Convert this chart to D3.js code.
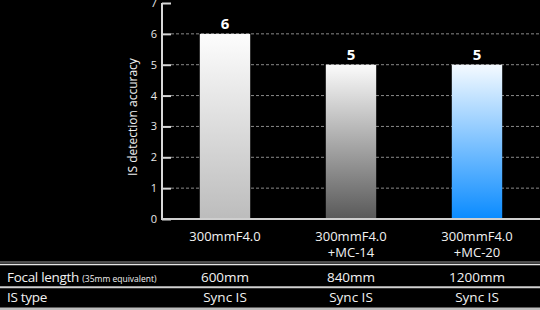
<!DOCTYPE html>
<html>
<head>
<meta charset="utf-8">
<script src="https://cdn.jsdelivr.net/npm/d3@7.9.0/dist/d3.min.js"></script>
<style>
  html, body { margin: 0; padding: 0; background: #000; }
  svg { display: block; font-family: "Open Sans", sans-serif; }
</style>
</head>
<body>
<div id="vis"></div>
<script>
const width = 540, height = 310;

const categories = [["300mmF4.0"], ["300mmF4.0", "+MC-14"], ["300mmF4.0", "+MC-20"]];
const values = [6, 5, 5];
const focalLengths = ["600mm", "840mm", "1200mm"];
const isTypes = ["Sync IS", "Sync IS", "Sync IS"];
const yTicks = [0, 1, 2, 3, 4, 5, 6, 7];
const gridTicks = [1, 2, 3, 4, 5, 6];

// gradient stops per bar: top, bottom
const barColors = [["#fdfdfd", "#bcbcbc"], ["#fbfbfb", "#595959"], ["#f4faff", "#0a8bff"]];

const svg = d3.select("#vis").append("svg")
    .attr("width", width)
    .attr("height", height)
    .attr("viewBox", `0 0 ${width} ${height}`);

svg.append("rect").attr("width", width).attr("height", height).attr("fill", "#000");

const x = d3.scaleBand()
    .domain(d3.range(values.length))
    .range([162, 540])
    .paddingInner(0.6)
    .paddingOuter(0.3);

const y = d3.scaleLinear().domain([0, 7]).range([219, 3]);

const defs = svg.append("defs");
barColors.forEach((c, i) => {
  const g = defs.append("linearGradient")
      .attr("id", "grad" + i)
      .attr("x1", 0).attr("y1", 0).attr("x2", 0).attr("y2", 1);
  g.append("stop").attr("offset", "0%").attr("stop-color", c[0]);
  g.append("stop").attr("offset", "100%").attr("stop-color", c[1]);
});

// dashed gridlines
svg.append("g")
  .selectAll("line")
  .data(gridTicks)
  .enter()
  .append("line")
    .attr("x1", 171)
    .attr("x2", width)
    .attr("y1", d => y(d))
    .attr("y2", d => y(d))
    .attr("stroke", "#8a8a8a")
    .attr("stroke-width", 1)
    .attr("stroke-dasharray", "3,2");

// bars
svg.append("g")
  .selectAll("rect")
  .data(values)
  .enter()
  .append("rect")
    .attr("x", (d, i) => x(i))
    .attr("y", d => y(d))
    .attr("width", x.bandwidth())
    .attr("height", d => y(0) - y(d))
    .attr("fill", (d, i) => `url(#grad${i})`);

// value labels
svg.append("g")
  .selectAll("text")
  .data(values)
  .enter()
  .append("text")
    .attr("x", (d, i) => x(i) + x.bandwidth() / 2)
    .attr("y", d => y(d) - 5)
    .attr("text-anchor", "middle")
    .attr("fill", "#fff")
    .attr("font-size", 15)
    .attr("font-weight", "bold")
    .text(d => d);

// y axis
const yAxis = svg.append("g")
    .attr("transform", "translate(162,0)")
    .call(d3.axisLeft(y).tickValues(yTicks).tickFormat(d3.format("d")).tickSize(-9).tickPadding(5));
yAxis.select(".domain").attr("stroke", "#d8d8d8").attr("stroke-width", 2)
    .attr("d", `M0,${y(7)}V${y(0)}`);
yAxis.selectAll(".tick line").attr("stroke", "#d8d8d8").attr("stroke-width", 2);
yAxis.selectAll(".tick text").attr("fill", "#e8e8e8").attr("font-size", 11)
    .attr("font-family", "Open Sans, sans-serif");

// baseline
svg.append("line")
    .attr("x1", 161).attr("x2", width)
    .attr("y1", y(0)).attr("y2", y(0))
    .attr("stroke", "#cfcfcf").attr("stroke-width", 2);

svg.append("text")
    .attr("transform", `translate(137,${(y(0) + y(7)) / 2 + 6}) rotate(-90)`)
    .attr("text-anchor", "middle")
    .attr("fill", "#f0f0f0")
    .attr("font-size", 12)
    .text("IS detection accuracy");

// category labels, one text per line
categories.forEach((lines, i) => {
  lines.forEach((line, j) => {
    svg.append("text")
      .attr("x", x(i) + x.bandwidth() / 2)
      .attr("y", 241 + j * 15.5)
      .attr("text-anchor", "middle")
      .attr("fill", "#f2f2f2")
      .attr("font-size", 13)
      .text(line);
  });
});

// table lines
const tableLines = [[262, "#9a9a9a", 1.2], [264.5, "#e6e6e6", 1.5], [287.3, "#d0d0d0", 2]];
svg.append("g")
  .selectAll("line")
  .data(tableLines)
  .enter()
  .append("line")
    .attr("x1", 0).attr("x2", width)
    .attr("y1", d => d[0]).attr("y2", d => d[0])
    .attr("stroke", d => d[1])
    .attr("stroke-width", d => d[2]);
svg.append("rect").attr("x", 0).attr("y", 307.5).attr("width", width).attr("height", 3).attr("fill", "#bdbdbd");

// table row labels
const fl = svg.append("text").attr("x", 7).attr("y", 282).attr("fill", "#f2f2f2")
    .attr("font-size", 13.5).attr("letter-spacing", -0.3);
fl.append("tspan").text("Focal length ");
fl.append("tspan").attr("font-size", 8.5).attr("letter-spacing", 0).text("(35mm equivalent)");
svg.append("text").attr("x", 7).attr("y", 302).attr("fill", "#f2f2f2")
    .attr("font-size", 13.5).attr("letter-spacing", -0.3).text("IS type");

const rows = [[focalLengths, 282], [isTypes, 302]];
rows.forEach(([arr, yy]) => {
  svg.append("g")
    .selectAll("text")
    .data(arr)
    .enter()
    .append("text")
      .attr("x", (d, i) => x(i) + x.bandwidth() / 2)
      .attr("y", yy)
      .attr("text-anchor", "middle")
      .attr("fill", "#f2f2f2")
      .attr("font-size", 13.5)
      .text(d => d);
});
</script>
</body>
</html>
